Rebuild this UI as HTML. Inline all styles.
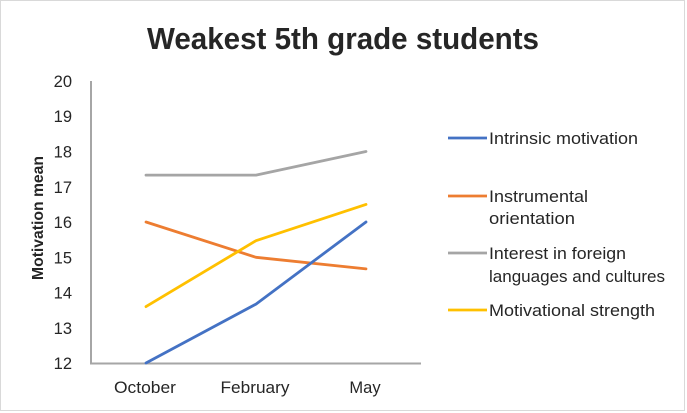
<!DOCTYPE html>
<html><head><meta charset="utf-8"><style>
html,body{margin:0;padding:0;background:#fff;}
svg{display:block;}
text{font-family:"Liberation Sans",sans-serif;fill:#262626;}
</style></head><body>
<svg width="687" height="413" viewBox="0 0 687 413" xmlns="http://www.w3.org/2000/svg">
<rect x="0.5" y="0.5" width="684" height="410" fill="#fff" stroke="#d9d9d9" stroke-width="1"/>
<text x="343" y="49" text-anchor="middle" font-size="31" font-weight="bold" textLength="392" lengthAdjust="spacingAndGlyphs" fill="#1e1e1e">Weakest 5th grade students</text>
<g font-size="16.5" text-anchor="end" fill="#404040">
<text x="72" y="87">20</text>
<text x="72" y="122">19</text>
<text x="72" y="157.5">18</text>
<text x="72" y="193">17</text>
<text x="72" y="228">16</text>
<text x="72" y="263.5">15</text>
<text x="72" y="298.5">14</text>
<text x="72" y="334">13</text>
<text x="72" y="369">12</text>
</g>
<text transform="translate(43,218) rotate(-90)" text-anchor="middle" font-size="16" font-weight="bold" textLength="124" lengthAdjust="spacingAndGlyphs">Motivation mean</text>
<g font-size="16.5" text-anchor="middle">
<text x="145" y="393" textLength="62" lengthAdjust="spacingAndGlyphs">October</text>
<text x="255" y="393" textLength="69" lengthAdjust="spacingAndGlyphs">February</text>
<text x="365" y="393">May</text>
</g>
<path d="M91,81 V363.5 H421" fill="none" stroke="#a6a6a6" stroke-width="2"/>
<g fill="none" stroke-width="2.8" stroke-linejoin="round" stroke-linecap="round">
<polyline points="146,175.1 256,175.1 366,151.5" stroke="#A5A5A5"/>
<polyline points="146,222 256,257.3 366,268.9" stroke="#ED7D31"/>
<polyline points="146,306.6 256,240.7 366,204.4" stroke="#FFC000"/>
<polyline points="146,363 256,304.1 366,222" stroke="#4472C4"/>
</g>
<g stroke-width="2.8">
<line x1="448" y1="138" x2="487" y2="138" stroke="#4472C4"/>
<line x1="448" y1="196" x2="487" y2="196" stroke="#ED7D31"/>
<line x1="448" y1="253" x2="487" y2="253" stroke="#A5A5A5"/>
<line x1="448" y1="310" x2="487" y2="310" stroke="#FFC000"/>
</g>
<g font-size="16.5" lengthAdjust="spacingAndGlyphs">
<text x="489" y="144" textLength="149" lengthAdjust="spacingAndGlyphs">Intrinsic motivation</text>
<text x="489" y="202" textLength="99" lengthAdjust="spacingAndGlyphs">Instrumental</text>
<text x="489" y="224" textLength="86" lengthAdjust="spacingAndGlyphs">orientation</text>
<text x="489" y="259" textLength="137" lengthAdjust="spacingAndGlyphs">Interest in foreign</text>
<text x="489" y="282" textLength="176" lengthAdjust="spacingAndGlyphs">languages and cultures</text>
<text x="489" y="316" textLength="166" lengthAdjust="spacingAndGlyphs">Motivational strength</text>
</g>
</svg>
</body></html>
